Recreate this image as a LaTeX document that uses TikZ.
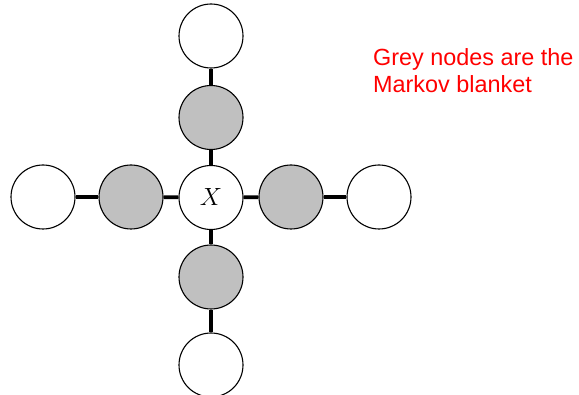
\documentclass[tikz,border=0pt]{standalone}
\usepackage{fontspec}
\newfontfamily\labelfont{Liberation Sans}
\usetikzlibrary{backgrounds}
\definecolor{blanketgrey}{RGB}{192,192,192}
\tikzset{
  var/.style={circle, draw=black, line width=1.1pt, fill=white,
    minimum size=64pt, inner sep=0pt},
  blanket/.style={var, fill=blanketgrey},
  link/.style={line width=3.6pt, black},
}
\begin{document}
\begin{tikzpicture}[x=1pt, y=-1pt]
  \useasboundingbox (0,0) rectangle (579,395);
  % central variable and its neighbourhood
  \node[var] (x) at (211,197.5) {\fontsize{23}{23}\selectfont$X$};
  \node[blanket] (up)    at (211,117.5) {};
  \node[blanket] (down)  at (211,277)   {};
  \node[blanket] (left)  at (131,197)   {};
  \node[blanket] (right) at (291,197)   {};
  % outer variables
  \node[var] (upup)       at (211,36)  {};
  \node[var] (downdown)   at (211,365) {};
  \node[var] (leftleft)   at (43,197)  {};
  \node[var] (rightright) at (379,197) {};
  % edges
  \begin{scope}[on background layer]
    \draw[link] (upup) -- (up);
    \draw[link] (up) -- (x);
    \draw[link] (x) -- (down);
    \draw[link] (down) -- (downdown);
    \draw[link] (leftleft) -- (left);
    \draw[link] (left) -- (x);
    \draw[link] (x) -- (right);
    \draw[link] (right) -- (rightright);
  \end{scope}
  % annotation (base anchor sits on the last line)
  \node[anchor=base west, align=left, inner sep=0pt, text=red,
        font=\labelfont\fontsize{23.4}{27.3}\selectfont] (note) at (373,93)
    {Grey nodes are the\\Markov blanket};
\end{tikzpicture}
\end{document}
